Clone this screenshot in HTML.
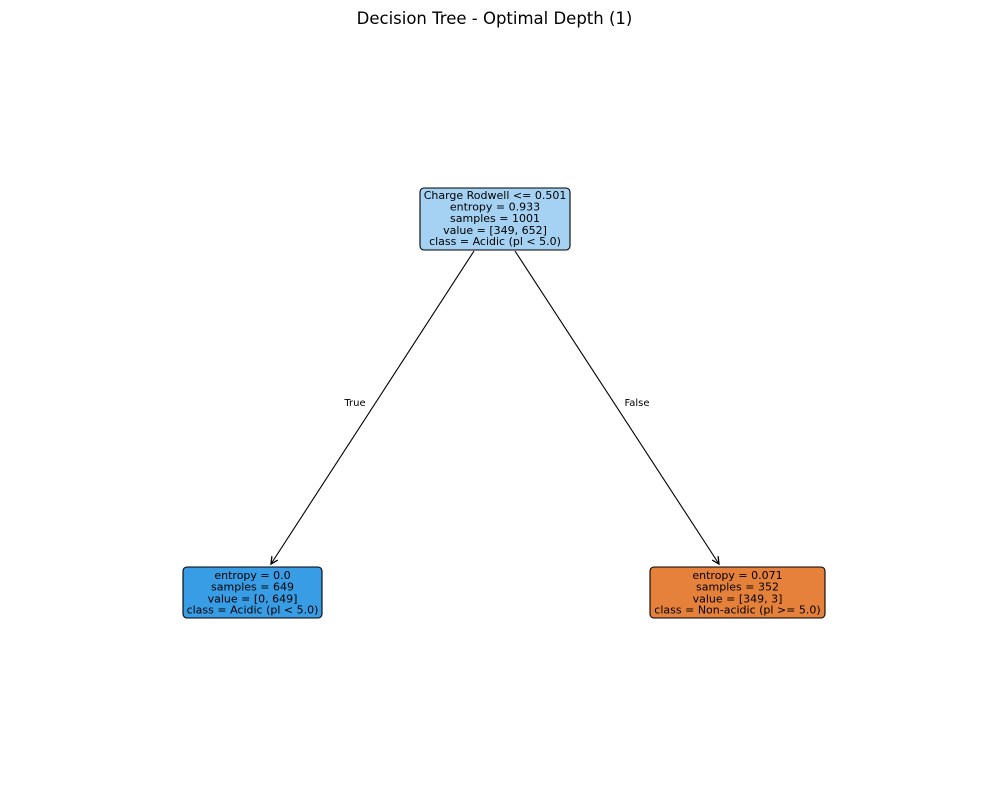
<!DOCTYPE html>
<html><head><meta charset="utf-8"><style>
html,body{margin:0;padding:0;background:#fff;}
svg{display:block;}
text{font-family:"DejaVu Sans","Liberation Sans",sans-serif;fill:#000;}
</style></head><body>
<svg width="989" height="790" viewBox="0 0 989 790" xmlns="http://www.w3.org/2000/svg">
<defs><marker id="a" markerWidth="10" markerHeight="10" refX="8" refY="5" orient="auto" markerUnits="userSpaceOnUse"><path d="M1,1.5 L8,5 L1,8.5" fill="none" stroke="#000" stroke-width="1.3"/></marker></defs>
<text x="494.5" y="24" font-size="16.5" text-anchor="middle">Decision Tree - Optimal Depth (1)</text>
<line x1="474" y1="251" x2="271" y2="564" stroke="#000" stroke-width="1.1" marker-end="url(#a)"/>
<line x1="515" y1="251" x2="719" y2="564" stroke="#000" stroke-width="1.1" marker-end="url(#a)"/>
<text x="355" y="406" font-size="10" text-anchor="middle">True</text>
<text x="637" y="406" font-size="10" text-anchor="middle">False</text>
<rect x="420" y="188" width="150" height="62" rx="4" fill="#a5d2f3" stroke="#000" stroke-width="1.1"/>
<g font-size="11" text-anchor="middle">
<text x="495" y="199">Charge Rodwell &lt;= 0.501</text>
<text x="495" y="210.5">entropy = 0.933</text>
<text x="495" y="222">samples = 1001</text>
<text x="495" y="234">value = [349, 652]</text>
<text x="495" y="245">class = Acidic (pl &lt; 5.0)</text>
</g>
<rect x="183" y="567" width="139" height="51" rx="4" fill="#399de5" stroke="#000" stroke-width="1.1"/>
<g font-size="11" text-anchor="middle">
<text x="252.5" y="579">entropy = 0.0</text>
<text x="252.5" y="590.5">samples = 649</text>
<text x="252.5" y="602.5">value = [0, 649]</text>
<text x="252.5" y="613.5">class = Acidic (pl &lt; 5.0)</text>
</g>
<rect x="650" y="567" width="175" height="51" rx="4" fill="#e5813a" stroke="#000" stroke-width="1.1"/>
<g font-size="11" text-anchor="middle">
<text x="737.5" y="579">entropy = 0.071</text>
<text x="737.5" y="590.5">samples = 352</text>
<text x="737.5" y="602.5">value = [349, 3]</text>
<text x="737.5" y="613.5">class = Non-acidic (pl &gt;= 5.0)</text>
</g>
</svg>
</body></html>
